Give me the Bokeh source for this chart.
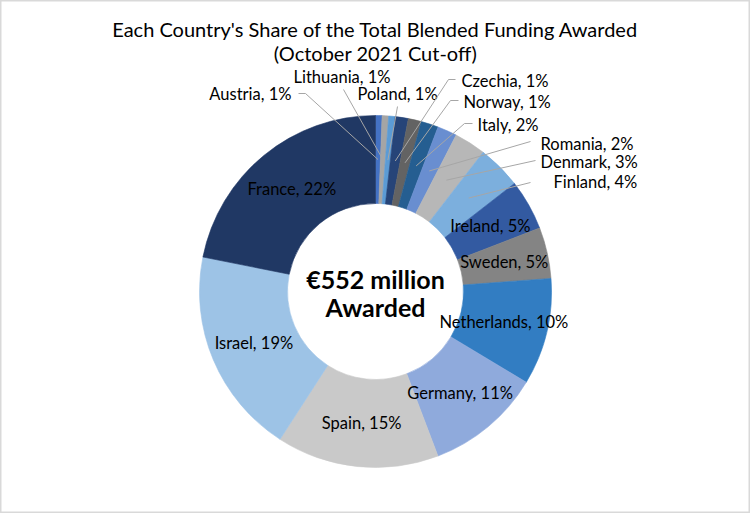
import math
from bokeh.plotting import figure
from bokeh.models import Range1d, ColumnDataSource
from bokeh.core.properties import value
from bokeh.embed import file_html
from bokeh.resources import INLINE

# ---------------- data ----------------
countries = ["Austria", "Lithuania", "Poland", "Czechia", "Norway", "Italy",
             "Romania", "Denmark", "Finland", "Ireland", "Sweden",
             "Netherlands", "Germany", "Spain", "Israel", "France"]
funding_m = [3.3, 3.3, 3.3, 6.6, 6.6, 8.8, 9.9, 16.0, 22.1, 25.6, 25.9,
             54.1, 58.5, 82.2, 104.9, 120.6]
colors = ["#4472C4", "#A5A5A5", "#5B9BD5", "#264478", "#636363", "#255E91",
          "#698ED0", "#B7B7B7", "#7CAFDD", "#335AA1", "#848484", "#327DC2",
          "#8FAADC", "#C9C9C9", "#9DC3E6", "#203864"]
title_lines = ["Each Country's Share of the Total Blended Funding Awarded",
               "(October 2021 Cut-off)"]
center_lines = ["€552 million", "Awarded"]

# ---------------- layout ----------------
W, H = 750, 513
CX, CY = 375, 291          # pixel centre of donut
R_OUT, R_IN = 176, 88
R_LBL = 132

FONT = "Lato"

def Y(py):
    return H - py

# outside-label layout: text anchor + leader-line attach points (pixels)
outside = {
    "Austria":   dict(tx=291, ty=93,  align="right", path=[(298, 93), (305, 93)]),
    "Lithuania": dict(tx=293, ty=76,  align="left",  path=[(343, 89)]),
    "Poland":    dict(tx=357, ty=93,  align="left",  path=[(397, 106)]),
    "Czechia":   dict(tx=461, ty=80,  align="left",  path=[(455, 79), (448, 79)]),
    "Norway":    dict(tx=463, ty=101, align="left",  path=[(458, 100), (450, 100)]),
    "Italy":     dict(tx=477, ty=124, align="left",  path=[(472, 123), (464, 123)]),
    "Romania":   dict(tx=540, ty=143, align="left",  path=[(530, 141)]),
    "Denmark":   dict(tx=540, ty=161, align="left",  path=[(535, 160)]),
    "Finland":   dict(tx=553, ty=181, align="left",  path=[(530, 182)]),
}

p = figure(width=W, height=H, x_range=Range1d(0, W), y_range=Range1d(0, H),
           output_backend="svg", toolbar_location=None, min_border=0)
p.axis.visible = False
p.grid.visible = False
p.outline_line_color = "#D9D9D9"
p.outline_line_width = 2
p.background_fill_color = "white"
p.border_fill_color = "white"

total = sum(funding_m)
starts, ends, mids = [], [], []
acc = 0.0
for v in funding_m:
    t1 = acc / total * 2 * math.pi
    acc += v
    t2 = acc / total * 2 * math.pi
    starts.append(math.pi / 2 - t2)
    ends.append(math.pi / 2 - t1)
    mids.append((t1 + t2) / 2)

src = ColumnDataSource(dict(start=starts, end=ends, color=colors, name=countries))
p.annular_wedge(x=CX, y=Y(CY), inner_radius=R_IN, outer_radius=R_OUT,
                start_angle="start", end_angle="end", fill_color="color",
                line_color="color", line_width=0.6, source=src)

pct = [round(v / total * 100) for v in funding_m]
labels = [f"{c}, {q}%" for c, q in zip(countries, pct)]

in_x, in_y, in_t = [], [], []
for c, lab, th in zip(countries, labels, mids):
    px = CX + R_LBL * math.sin(th)
    py = CY - R_LBL * math.cos(th)
    if c in outside:
        o = outside[c]
        xs = [px] + [q[0] for q in reversed(o["path"])]
        ys = [Y(py)] + [Y(q[1]) for q in reversed(o["path"])]
        p.line(xs, ys, line_color="#A6A6A6", line_width=1)
        p.text(x=[o["tx"]], y=[Y(o["ty"])], text=[lab], text_font=value(FONT),
               text_font_size="16.5px", text_align=o["align"],
               text_baseline="middle", text_color="#000000")
    else:
        in_x.append(px)
        in_y.append(Y(py))
        in_t.append(lab)

p.text(x=in_x, y=in_y, text=in_t, text_font=value(FONT), text_font_size="16.5px",
       text_align="center", text_baseline="middle", text_color="#000000")

# title
p.text(x=[W / 2, W / 2], y=[Y(28), Y(52)], text=title_lines, text_font=value(FONT),
       text_font_size="20px", text_align="center", text_baseline="middle",
       text_color="#000000")

# centre text
p.text(x=[CX, CX], y=[Y(278), Y(306)], text=center_lines, text_font=value(FONT),
       text_font_size="25px", text_font_style="bold", text_align="center",
       text_baseline="middle", text_color="#000000")

open("out.html", "w").write(file_html(p, INLINE))
